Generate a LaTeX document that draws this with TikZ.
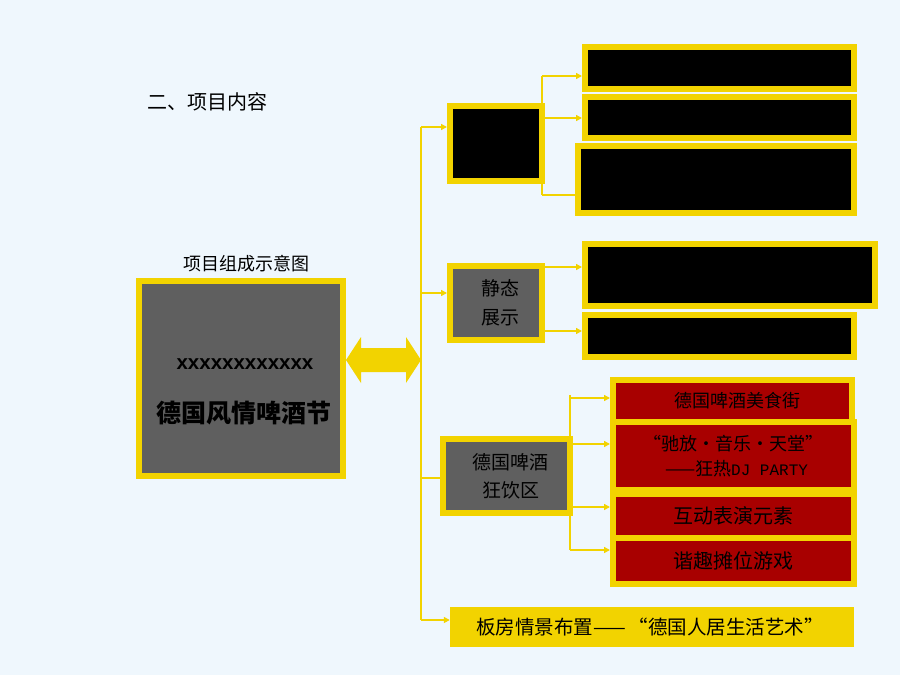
\documentclass[tikz,border=0pt]{standalone}
\usepackage{fontspec}
\setmainfont{Noto Sans CJK SC}
\newfontfamily\arialf{Liberation Sans}
\newfontfamily\monof{Liberation Mono}
\usetikzlibrary{arrows.meta,calc}
\definecolor{yy}{RGB}{242,211,0}
\definecolor{bgc}{RGB}{239,247,253}
\definecolor{gc}{RGB}{95,95,95}
\definecolor{rc}{RGB}{168,0,0}
\newcommand{\fsz}[2]{\fontsize{#1}{#2}\selectfont}
\begin{document}
\begin{tikzpicture}[x=1pt,y=-1pt,
  ybox/.style={draw=yy,line width=6pt,inner sep=0pt,align=center},
  blk/.style={ybox,fill=black},
  gbox/.style={ybox,fill=gc},
  rbox/.style={ybox,fill=rc},
  trunk/.style={draw=yy,line width=2pt},
  br/.style={draw=yy,line width=1.5pt,-{Triangle[length=6pt,width=6pt]}},
  ln/.style={draw=yy,line width=1.5pt},
  lbl/.style={inner sep=0pt,align=center}]
\fill[bgc] (0,0) rectangle (900,675);
\useasboundingbox (0,0) rectangle (900,675);

% titles
\node[lbl,anchor=west,font=\fsz{20}{24}] (title) at (147,102) {二、项目内容};
\node[lbl,font=\fsz{18}{22}] (sub) at (246,264) {项目组成示意图};

% coordinates of connectors
\coordinate (t1) at (421,127);
\coordinate (t2) at (421,293);
\coordinate (t3) at (421,478);
\coordinate (t4) at (421,620);
\coordinate (a1) at (542,76);
\coordinate (a2) at (545,118);
\coordinate (a3) at (542,195);
\coordinate (b1) at (545,267);
\coordinate (b2) at (545,331);
\coordinate (c1) at (570,398);
\coordinate (c2) at (570,444);
\coordinate (c3) at (570,507);
\coordinate (c4) at (570,550);

% boxes (positions)
\path
 node[gbox,minimum width=204pt,minimum height=195pt] (M) at (241,378.5) {}
 node[blk,minimum width=92pt,minimum height=75pt] (A) at (496,143.5) {}
 node[gbox,minimum width=92pt,minimum height=74pt,font=\fsz{19}{29}] (B) at (496,303) {\hspace*{8pt}静态\\\hspace*{8pt}展示}
 node[blk,minimum width=269pt,minimum height=42pt] (R1) at (719.5,68) {}
 node[blk,minimum width=269pt,minimum height=41pt] (R2) at (719.5,117.5) {}
 node[blk,minimum width=276pt,minimum height=67pt] (R3) at (716,179.5) {}
 node[blk,minimum width=290pt,minimum height=62pt] (R4) at (730,275) {}
 node[blk,minimum width=269pt,minimum height=42pt] (R5) at (719.5,336) {}
 node[gbox,minimum width=127pt,minimum height=74pt,font=\fsz{19}{28}] (C) at (506.5,476) {\hspace*{8pt}德国啤酒\\\hspace*{8pt}狂饮区};

% connectors
\draw[trunk] (t1) -- (t4);
\draw[br] (t1) -- (t1 -| A.west);
\draw[br] (t2) -- (t2 -| B.west);
\draw[ln] (t3) -- (t3 -| C.west);
\draw[ln] (a1) -- (a3);
\draw[br] (a1) -- (a1 -| R1.west);
\draw[br] (a2) -- (a2 -| R2.west);
\draw[ln] (a3) -- (a3 -| R3.west);
\draw[br] (b1) -- (b1 -| R4.west);
\draw[br] (b2) -- (b2 -| R5.west);
\draw[ln] ($(c1)+(0,-3)$) -- (c4);

% double arrow between main box and trunk
\fill[yy] (M.east |- 0,360) -- (361,337) -- (361,348) -- (406,348) -- (406,337)
  -- (t1 |- 0,360) -- (406,383) -- (406,372) -- (361,372) -- (361,383) -- cycle;

% redraw boxes on top of connectors
\node[gbox,minimum width=204pt,minimum height=195pt] at (M) {};
\node[blk,minimum width=92pt,minimum height=75pt] at (A) {};
\node[gbox,minimum width=92pt,minimum height=74pt,font=\fsz{19}{29}] at (B) {\hspace*{8pt}静态\\\hspace*{8pt}展示};
\node[gbox,minimum width=127pt,minimum height=74pt,font=\fsz{19}{28}] at (C) {\hspace*{8pt}德国啤酒\\\hspace*{8pt}狂饮区};

% main box text
\node[lbl,font=\arialf\bfseries\fsz{20.5}{24}] (Mx) at (245,364) {xxxxxxxxxxxx};
\node[lbl,font=\bfseries\fsz{25}{29}] (Mt) at (244,413) {德国风情啤酒节};

% red boxes
\node[rbox,minimum width=239pt,minimum height=42pt,font=\fsz{18}{22}] (D1) at (732.5,401) {\hspace*{10pt}德国啤酒美食街};
\node[rbox,minimum width=241pt,minimum height=68pt,font=\fsz{18}{25}] (D2) at (733.5,456) {“驰放・音乐・天堂”\\\hspace*{6pt}——狂热{\monof\fsz{16}{25}DJ PARTY}};
\node[rbox,minimum width=241pt,minimum height=44pt,font=\fsz{20}{24}] (D3) at (733.5,516) {互动表演元素};
\node[rbox,minimum width=241pt,minimum height=46pt,font=\fsz{20}{24}] (D4) at (733.5,561) {谐趣摊位游戏};
\draw[br] (c1) -- (c1 -| D1.west);
\draw[br] (c2) -- (c2 -| D2.west);
\draw[br] (c3) -- (c3 -| D3.west);
\draw[br] (c4) -- (c4 -| D4.west);

% bottom yellow box
\node[fill=yy,inner sep=0pt,minimum width=404pt,minimum height=40pt,font=\fsz{19.5}{23}] (E) at (652,627) {\hspace*{-4pt}板房情景布置——\,“德国人居生活艺术”};
\draw[br] (t4) -- (t4 -| E.west);
\end{tikzpicture}
\end{document}
